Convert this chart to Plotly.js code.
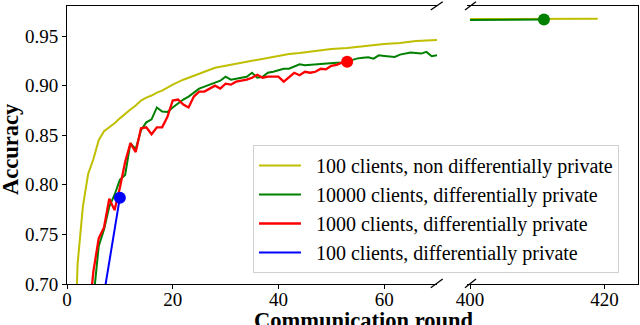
<!DOCTYPE html>
<html>
<head>
<meta charset="utf-8">
<script src="https://cdn.plot.ly/plotly-3.0.1.min.js"></script>
<style>
  html, body { margin: 0; padding: 0; background: #fff; }
  #plot { width: 640px; height: 325px; }
</style>
</head>
<body>
<div id="plot"></div>
<script>
// 100 clients, non differentially private (left panel)
const yellowX = [1, 2, 3, 4, 5, 6, 7, 8, 9, 10, 11, 12, 13, 14, 15, 16, 17, 18, 20, 22, 24, 26, 28, 30,
                 32, 34, 36, 38, 40, 42, 44, 47, 50, 53, 56, 60, 63, 66, 70];
const yellowY = [0.55, 0.72, 0.778, 0.811, 0.826, 0.845, 0.854, 0.858, 0.862, 0.867, 0.872, 0.876, 0.880,
                 0.885, 0.888, 0.890, 0.893, 0.895, 0.901, 0.906, 0.910, 0.914, 0.918, 0.920, 0.922, 0.924,
                 0.926, 0.928, 0.930, 0.932, 0.933, 0.935, 0.937, 0.938, 0.940, 0.942, 0.943, 0.945, 0.946];

// 10000 clients, differentially private
const greenX = [4, 5, 6, 7, 8, 9, 10, 11, 12, 13, 14, 15, 16, 17, 18, 19, 20, 21, 22, 23, 24, 25, 26, 27,
                28, 29, 30, 31, 32, 33, 34, 35, 36, 37, 38, 39, 40, 41, 42, 43, 44, 45, 46, 47, 48, 49, 50,
                51, 52, 53, 54, 55, 56, 57, 58, 59, 60, 61, 62, 63, 64, 65, 66, 67, 68, 69, 70];
const greenY = [0.62, 0.685, 0.738, 0.755, 0.778, 0.790, 0.805, 0.810, 0.842, 0.836, 0.855, 0.863, 0.866,
                0.878, 0.874, 0.8735, 0.878, 0.882, 0.886, 0.889, 0.893, 0.897, 0.899, 0.901, 0.903, 0.905,
                0.909, 0.906, 0.907, 0.908, 0.909, 0.913, 0.908, 0.909, 0.913, 0.914, 0.9155, 0.917, 0.917,
                0.919, 0.9215, 0.9205, 0.921, 0.9215, 0.9222, 0.9222, 0.9225, 0.923, 0.9232, 0.924, 0.926,
                0.9275, 0.928, 0.9286, 0.9272, 0.9306, 0.930, 0.9295, 0.929, 0.9313, 0.9323, 0.9333, 0.9328,
                0.9323, 0.934, 0.9296, 0.9306];

// 1000 clients, differentially private
const redX = [4, 5, 6, 7, 8, 9, 10, 11, 12, 13, 14, 15, 16, 17, 18, 19, 20, 21, 22, 23, 24, 25, 26, 27,
              28, 29, 30, 31, 32, 33, 34, 35, 36, 37, 38, 39, 40, 41, 42, 43, 44, 45, 46, 47, 48, 49, 50,
              51, 52, 53];
const redY = [0.66, 0.713, 0.746, 0.757, 0.786, 0.7745, 0.797, 0.823, 0.842, 0.833, 0.857, 0.858, 0.851,
              0.858, 0.858, 0.8685, 0.885, 0.886, 0.881, 0.878, 0.889, 0.894, 0.894, 0.897, 0.900, 0.897,
              0.902, 0.901, 0.904, 0.905, 0.906, 0.908, 0.911, 0.908, 0.909, 0.909, 0.909, 0.904, 0.909,
              0.913, 0.9105, 0.914, 0.913, 0.914, 0.917, 0.9165, 0.920, 0.921, 0.9232, 0.924];

// 100 clients, differentially private
const blueX = [7, 8, 9, 10];
const blueY = [0.69, 0.722, 0.755, 0.787];

// right panel (rounds 400+)
const yellow2X = [400, 405, 410, 415, 419];
const yellow2Y = [0.9672, 0.9673, 0.9674, 0.9675, 0.9675];
const green2X = [400, 403, 406, 409, 410, 411];
const green2Y = [0.9662, 0.9664, 0.9665, 0.9666, 0.9664, 0.9666];

const seriesNames = [
  '100 clients, non differentially private',
  '10000 clients, differentially private',
  '1000 clients, differentially private',
  '100 clients, differentially private'
];
const yTicks = [0.70, 0.75, 0.80, 0.85, 0.90, 0.95];

const YELLOW = '#bfbf00', GREEN = '#008000', RED = '#ff0000', BLUE = '#0000ff';
const FONT = '"Liberation Serif", "DejaVu Serif", serif';

function line(x, y, color, name, xa, ya, show, width) {
  return {
    x: x, y: y, mode: 'lines', name: '\u2002' + name,
    xaxis: xa, yaxis: ya, showlegend: show,
    line: {color: color, width: width || 2},
    hoverinfo: 'skip'
  };
}
function dot(x, y, color, xa, ya) {
  return {
    x: [x[x.length - 1]], y: [y[y.length - 1]], mode: 'markers',
    xaxis: xa, yaxis: ya, showlegend: false,
    marker: {color: color, size: 12}, hoverinfo: 'skip'
  };
}

const traces = [
  line(yellowX, yellowY, YELLOW, seriesNames[0], 'x', 'y', true),
  line(greenX, greenY, GREEN, seriesNames[1], 'x', 'y', true),
  line(redX, redY, RED, seriesNames[2], 'x', 'y', true, 2.3),
  line(blueX, blueY, BLUE, seriesNames[3], 'x', 'y', true),
  line(yellow2X, yellow2Y, YELLOW, seriesNames[0], 'x2', 'y2', false),
  line(green2X, green2Y, GREEN, seriesNames[1], 'x2', 'y2', false),
  dot(redX, redY, RED, 'x', 'y'),
  dot(blueX, blueY, BLUE, 'x', 'y'),
  dot(green2X, green2Y, GREEN, 'x2', 'y2')
];

const axisCommon = {
  showline: true, linecolor: '#000', linewidth: 1,
  showgrid: false, zeroline: false,
  ticks: 'outside', ticklen: 4, tickwidth: 1, tickcolor: '#000',
  tickfont: {family: FONT, size: 19, color: '#000'}
};

// break marks (decoration, paper coordinates)
const breakMarks = [
  [0.637, 0.9856, 0.658, 1.0155], [0.697, 0.9856, 0.7163, 1.0155],
  [0.637, -0.0133, 0.658, 0.018], [0.697, -0.0133, 0.7163, 0.018]
].map(function (b) {
  return {type: 'line', xref: 'paper', yref: 'paper', x0: b[0], y0: b[1], x1: b[2], y1: b[3],
          line: {color: '#000', width: 1.3}};
});

const layout = {
  width: 640, height: 325,
  margin: {l: 67, r: 2, t: 6, b: 41},
  paper_bgcolor: '#fff', plot_bgcolor: '#fff',
  font: {family: FONT, size: 19, color: '#000'},
  showlegend: true,
  xaxis: Object.assign({}, axisCommon, {
    domain: [0, 0.648], range: [0, 70], tickvals: [0, 20, 40, 60], mirror: true, anchor: 'y',
    ticklabelstandoff: -6
  }),
  xaxis2: Object.assign({}, axisCommon, {
    domain: [0.70, 1], range: [399.5, 425], tickvals: [400, 420], mirror: true, anchor: 'y2',
    ticklabelstandoff: -6
  }),
  yaxis: Object.assign({}, axisCommon, {
    domain: [0, 1], range: [0.70, 0.9803], tickvals: yTicks, tickformat: '.2f', anchor: 'x'
  }),
  yaxis2: {
    domain: [0, 1], range: [0.70, 0.9803], anchor: 'x2', side: 'right',
    showline: true, linecolor: '#000', linewidth: 1, ticks: '', showticklabels: false,
    showgrid: false, zeroline: false
  },
  legend: {
    x: 0.3257, y: 0.5, xanchor: 'left', yanchor: 'top',
    bgcolor: 'rgba(255,255,255,0.85)', bordercolor: '#d0d0d0', borderwidth: 1,
    font: {family: FONT, size: 20, color: '#000'},
    itemwidth: 42, tracegroupgap: 0
  },
  shapes: breakMarks,
  annotations: [
    {text: '<b>Communication round</b>', xref: 'paper', yref: 'paper', x: 0.5184, y: -0.08,
     xanchor: 'center', yanchor: 'top', showarrow: false,
     font: {family: FONT, size: 22.5, color: '#000'}},
    {text: '<b>Accuracy</b>', xref: 'paper', yref: 'paper', x: -0.0998, y: 0.4856,
     xanchor: 'center', yanchor: 'middle', textangle: -90, showarrow: false,
     font: {family: FONT, size: 22.5, color: '#000'}}
  ]
};

Plotly.newPlot('plot', traces, layout, {displayModeBar: false, staticPlot: true});
</script>
</body>
</html>
